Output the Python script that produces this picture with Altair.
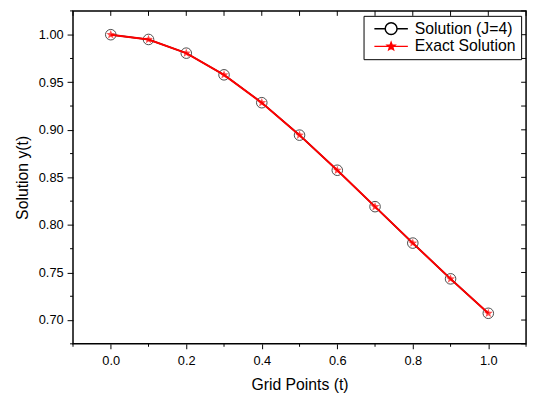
import math
import altair as alt
import pandas as pd

# ---- data ----
t_values = [0.0, 0.1, 0.2, 0.3, 0.4, 0.5, 0.6, 0.7, 0.8, 0.9, 1.0]
solution_j4 = [1.0000, 0.9950, 0.9806, 0.9578, 0.9285, 0.8944, 0.8575, 0.8192, 0.7809, 0.7433, 0.7071]
exact_solution = [1.0000, 0.9950, 0.9806, 0.9578, 0.9285, 0.8944, 0.8575, 0.8192, 0.7809, 0.7433, 0.7071]
series_names = ["Solution (J=4)", "Exact Solution"]

x_major = [0.0, 0.2, 0.4, 0.6, 0.8, 1.0]
x_minor = [-0.1, 0.1, 0.3, 0.5, 0.7, 0.9, 1.1]
y_major = [0.70, 0.75, 0.80, 0.85, 0.90, 0.95, 1.00]
y_minor = [0.675, 0.725, 0.775, 0.825, 0.875, 0.925, 0.975, 1.025]

df = pd.DataFrame({"t": t_values, "num": solution_j4, "exact": exact_solution})

W, H = 460, 338
FONT = "Liberation Sans"


def star_path(R, cx=0.0, inner=0.42, prefix=""):
    pts = []
    for k in range(10):
        a = -math.pi / 2 + k * math.pi / 5
        r = R if k % 2 == 0 else R * inner
        pts.append(f"{cx + r*math.cos(a):.3f},{r*math.sin(a):.3f}")
    return prefix + "M" + "L".join(pts) + "Z"


STAR = star_path(1.0)

xs = alt.Scale(domain=[-0.1, 1.1], nice=False, zero=False)
ys = alt.Scale(domain=[0.675, 1.025], nice=False, zero=False)

x_axis = alt.Axis(values=x_major, tickSize=5, format=".1f", domain=False, grid=False,
                  tickColor="black", tickWidth=1,
                  labelFont=FONT, labelFontSize=13, labelColor="black", labelPadding=6,
                  title="Grid Points (t)", titleFont=FONT, titleFontSize=16,
                  titleFontWeight="normal", titleColor="black", titlePadding=9)
y_axis = alt.Axis(values=y_major, tickSize=6, format=".2f", domain=False, grid=False,
                  tickColor="black", tickWidth=1,
                  labelFont=FONT, labelFontSize=13, labelColor="black", labelPadding=4,
                  title="Solution y(t)", titleFont=FONT, titleFontSize=16,
                  titleFontWeight="normal", titleColor="black", titlePadding=8)

base = alt.Chart(df)

line_num = base.mark_line(color="black", strokeWidth=1.5).encode(
    x=alt.X("t:Q", scale=xs, axis=x_axis),
    y=alt.Y("num:Q", scale=ys, axis=y_axis),
)
pts_num = base.mark_point(shape="circle", size=115, color="black", strokeWidth=1, filled=False).encode(
    x=alt.X("t:Q", scale=xs),
    y=alt.Y("num:Q", scale=ys),
)
line_exact = base.mark_line(color="red", strokeWidth=2).encode(
    x=alt.X("t:Q", scale=xs),
    y=alt.Y("exact:Q", scale=ys),
)
pts_exact = base.mark_point(shape=STAR, size=90, color="red", filled=True).encode(
    x=alt.X("t:Q", scale=xs),
    y=alt.Y("exact:Q", scale=ys),
)

# ---- extra ticks: minor outward ticks, inward ticks on top and right ----
tick_style = dict(color="black", strokeWidth=1)
bottom_minor = alt.Chart(pd.DataFrame({"v": x_minor})).mark_rule(**tick_style).encode(
    x=alt.X("v:Q", scale=xs), y=alt.value(H), y2=alt.value(H + 3))
left_minor = alt.Chart(pd.DataFrame({"v": y_minor})).mark_rule(**tick_style).encode(
    y=alt.Y("v:Q", scale=ys), x=alt.value(0), x2=alt.value(-3))
top_ticks = alt.Chart(pd.DataFrame({"v": sorted(x_major + x_minor)})).mark_rule(**tick_style).encode(
    x=alt.X("v:Q", scale=xs), y=alt.value(0), y2=alt.value(5))
right_ticks = alt.Chart(pd.DataFrame({"v": sorted(y_major + y_minor)})).mark_rule(**tick_style).encode(
    y=alt.Y("v:Q", scale=ys), x=alt.value(W), x2=alt.value(W - 5))

# ---- legend symbols: line with marker (drawn to the right of the symbol anchor) ----
L, Rt = -0.4, 6.4          # line extent, in symbol units (1 unit = 5 px)
cc = (L + Rt) / 2          # marker centre
cr = 1.2                   # circle radius
path_solution = (f"M{L},0L{cc - cr:.2f},0M{cc + cr:.2f},0L{Rt},0"
                 f"M{cc + cr:.2f},0A{cr},{cr},0,1,1,{cc - cr:.2f},0A{cr},{cr},0,1,1,{cc + cr:.2f},0Z")
path_exact = star_path(0.8, cx=cc, prefix=f"M{L},0L{Rt},0")

leg = alt.Legend(orient="none", legendX=295, legendY=5, title=None,
                 strokeColor="black", fillColor="white", padding=5, cornerRadius=0,
                 labelFont=FONT, labelFontSize=16, labelColor="black", labelOffset=31,
                 symbolSize=100, symbolStrokeWidth=1.5, rowPadding=1)

legend_df = pd.DataFrame({"series": series_names, "t": [0.5, 0.5], "num": [0.85, 0.85]})
legend_layer = alt.Chart(legend_df).mark_point(filled=False, opacity=0).encode(
    x=alt.X("t:Q", scale=xs),
    y=alt.Y("num:Q", scale=ys),
    stroke=alt.Stroke("series:N", scale=alt.Scale(domain=series_names, range=["black", "red"]), legend=leg),
    fill=alt.Fill("series:N", scale=alt.Scale(domain=series_names, range=["white", "red"]), legend=leg),
    shape=alt.Shape("series:N", scale=alt.Scale(domain=series_names, range=[path_solution, path_exact]), legend=leg),
)

chart = alt.layer(
    line_num, pts_num, line_exact, pts_exact,
    bottom_minor, left_minor, top_ticks, right_ticks, legend_layer
).properties(
    width=W, height=H,
    autosize=alt.AutoSizeParams(type="none"),
    padding={"left": 66, "top": 0, "right": 4, "bottom": 49},
).configure_view(stroke="black", strokeWidth=1.5).configure_legend(symbolOpacity=1)

chart.save("out.html", embed_options={"renderer": "svg", "actions": False})
